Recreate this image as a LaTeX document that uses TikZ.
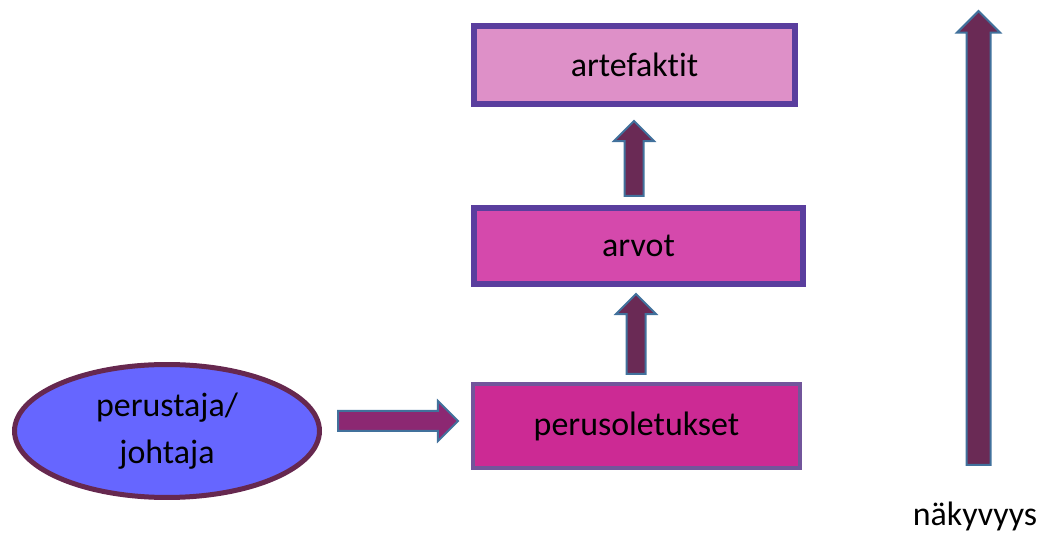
\documentclass[tikz,border=0pt]{standalone}
\usepackage{fontspec}
\setmainfont{Carlito}[Ligatures=NoCommon]
\usetikzlibrary{shapes.geometric,shapes.arrows}

\definecolor{boxline}{HTML}{5A3E9E}
\definecolor{boxlinelight}{HTML}{72559B}
\definecolor{artfill}{HTML}{DE90C8}
\definecolor{arvofill}{HTML}{D549AC}
\definecolor{perusfill}{HTML}{CC2A94}
\definecolor{ovalfill}{HTML}{6666FF}
\definecolor{ovalline}{HTML}{66284F}
\definecolor{arrowfill}{HTML}{6A2A55}
\definecolor{arrowfillh}{HTML}{8C2872}
\definecolor{arrowline}{HTML}{41719C}

% invisible square that sets the width of an arrow's shaft
\newcommand{\shaftw}[1]{\phantom{\rule{#1}{#1}}}

\tikzset{
    level/.style={draw=boxline,line width=0.12cm,inner sep=0pt},
    blockarrow/.style={single arrow,draw=arrowline,fill=arrowfill,line width=0.04cm,
        inner sep=0pt,single arrow head extend=0.2cm,anchor=tail}
}

\begin{document}
\begin{tikzpicture}[x=0.02cm,y=-0.02cm,font=\fontsize{19.3}{27}\selectfont]
    \useasboundingbox (0,0) rectangle (1046,533);

    \node[level,fill=artfill,minimum width=6.42cm,minimum height=1.58cm] (art) at (634.5,65) {artefaktit};
    \node[level,fill=arvofill,minimum width=6.58cm,minimum height=1.52cm] (arvot) at (638.5,246) {arvot};
    \node[level,draw=boxlinelight,line width=0.08cm,fill=perusfill,minimum width=6.54cm,minimum height=1.68cm] (perus) at (636.5,426) {perusoletukset};

    \node[ellipse,draw=ovalline,line width=0.1cm,fill=ovalfill,inner sep=0pt,
          minimum width=6.1cm,minimum height=2.66cm,align=center] (johtaja) at (167,431) {perustaja/\\johtaja};

    \node[blockarrow,fill=arrowfillh,minimum height=2.4cm] (ah) at (337,421) {\shaftw{0.36cm}};
    \node[blockarrow,shape border rotate=90,single arrow head extend=0.21cm,minimum height=1.5cm] (a1) at (634,197) {\shaftw{0.34cm}};
    \node[blockarrow,shape border rotate=90,single arrow head extend=0.21cm,minimum height=1.6cm] (a2) at (636,375) {\shaftw{0.34cm}};
    \node[blockarrow,shape border rotate=90,single arrow head extend=0.19cm,minimum height=9.08cm] (nakyvyys) at (978.5,466) {\shaftw{0.44cm}};

    \node (nlabel) at (975,516) {näkyvyys};
\end{tikzpicture}
\end{document}
